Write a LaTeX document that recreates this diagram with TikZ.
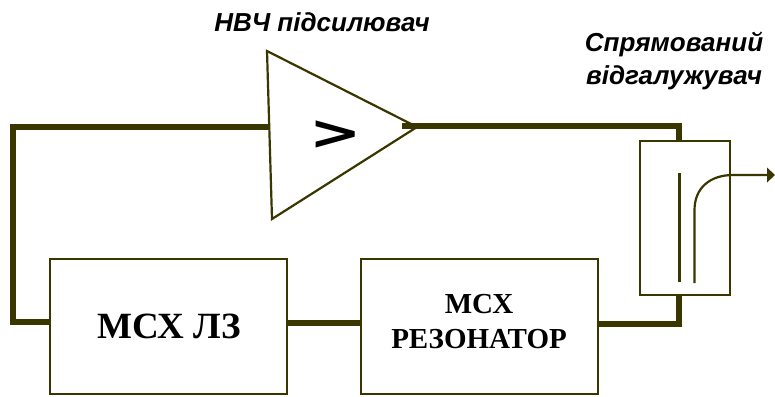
\documentclass[tikz,border=0pt]{standalone}
\usepackage{fontspec}
\setmainfont{Liberation Serif}
\setsansfont{Liberation Sans}
\newfontfamily\gtfont{DejaVu Sans}
\definecolor{ol}{HTML}{3A3600}
\tikzset{
 wire/.style={draw=ol,line width=6pt},
 thinline/.style={draw=ol,line width=2.2pt},
 blockbox/.style={draw=ol,line width=2.6pt,fill=white,inner sep=0pt},
 lab/.style={font=\sffamily\bfseries\itshape\fontsize{26}{32}\selectfont,inner sep=0pt,anchor=base},
 sertext/.style={font=\rmfamily\bfseries,inner sep=0pt,anchor=base}
}
\begin{document}
\begin{tikzpicture}[x=1pt,y=-1pt]
\useasboundingbox (0,0) rectangle (775,396);
\node[blockbox,minimum width=237pt,minimum height=135pt] (lz) at (168.5,326.5) {};
\node[blockbox,minimum width=237pt,minimum height=135pt] (res) at (479.5,326.5) {};
\node[blockbox,minimum width=90pt,minimum height=154pt] (dc) at (685,218) {};
\node[sertext,font=\rmfamily\bfseries\fontsize{37}{37}\selectfont] (lzt) at (169,338) {МСХ ЛЗ};
\node[sertext,font=\rmfamily\bfseries\fontsize{29}{29}\selectfont] (rt1) at (479,313) {МСХ};
\node[sertext,font=\rmfamily\bfseries\fontsize{29}{29}\selectfont] (rt2) at (479,348) {РЕЗОНАТОР};
\coordinate (t1) at (267,51);
\coordinate (t2) at (272,219);
\coordinate (t3) at (417,127);
\coordinate (ampin) at (268,127);
\coordinate (ampout) at (402,126);
\coordinate (cl) at (13,127);
\coordinate (cb) at (13,322);
\coordinate (ctop) at (679,126);
\coordinate (cbot) at (679,324);
\coordinate (tip) at (775,175);
\draw[thinline,fill=white,line join=miter] (t1) -- (t2) -- (t3) -- cycle;
\draw[wire,line join=miter] (ampin) -- (cl) -- (cb) -- (cb -| lz.west);
\draw[wire,line join=miter] (ampout) -- (ctop) -- (ctop |- dc.north);
\draw[wire,line join=miter] (dc.south -| cbot) -- (cbot) -- (res.east |- cbot);
\draw[wire] (lz.east |- 0,323) -- (res.west |- 0,323);
\draw[thinline] (679.5,173) -- (679.5,282);
\draw[thinline] (694.5,283) -- (694.5,210) .. controls (694.5,188) and (710,175) .. (733,175) -- (768,175);
\fill[ol] (tip) -- (767,167.5) -- (767,182.5) -- cycle;
\node[font=\gtfont\bfseries\fontsize{48}{48}\selectfont,inner sep=0pt,xscale=1.3] (gt) at (336,135) {>};
\node[lab] (l1) at (322,32) {НВЧ підсилювач};
\node[lab] (l2) at (674,52) {Спрямований};
\node[lab] (l3) at (674,84) {відгалужувач};
\end{tikzpicture}
\end{document}
